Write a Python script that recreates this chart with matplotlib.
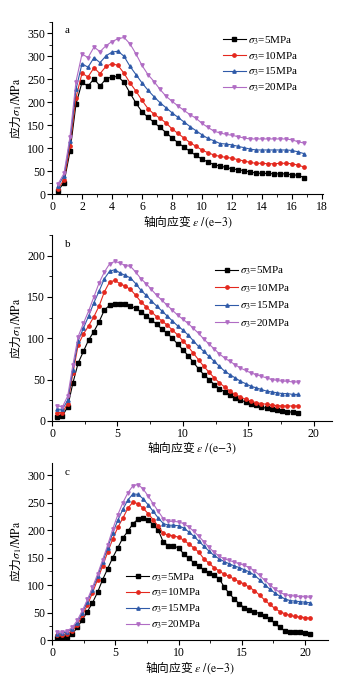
import matplotlib
matplotlib.use("Agg")
import matplotlib.pyplot as plt
from matplotlib.ticker import MultipleLocator

plt.rcParams['font.family'] = ['Liberation Serif', 'Noto Sans CJK SC', 'DejaVu Sans']
plt.rcParams['mathtext.fontset'] = 'stix'
plt.rcParams['font.size'] = 8

# ---- panel a ----
x_a = [0.4, 0.8, 1.2, 1.6, 2.0, 2.4, 2.8, 3.2, 3.6, 4.0, 4.4, 4.8, 5.2, 5.6, 6.0,
       6.4, 6.8, 7.2, 7.6, 8.0, 8.4, 8.8, 9.2, 9.6, 10.0, 10.4, 10.8, 11.2, 11.6,
       12.0, 12.4, 12.8, 13.2, 13.6, 14.0, 14.4, 14.8, 15.2, 15.6, 16.0, 16.4, 16.8]
a_5 = [7, 25, 93, 196, 243, 235, 251, 235, 251, 255, 256, 243, 220, 198, 179, 167,
       156, 145, 134, 122, 112, 102, 93, 84, 76, 70, 64, 61, 58, 55, 53, 51, 48, 46,
       45, 45, 44, 44, 44, 42, 41, 36]
a_10 = [12, 30, 105, 210, 263, 255, 275, 262, 278, 284, 280, 263, 242, 224, 204, 186,
        174, 165, 155, 142, 132, 122, 112, 104, 96, 90, 85, 82, 80, 78, 75, 72, 69, 67,
        67, 66, 66, 67, 67, 66, 63, 59]
a_15 = [18, 40, 115, 228, 284, 276, 297, 286, 301, 309, 311, 300, 278, 260, 242, 226,
        212, 199, 188, 177, 167, 157, 147, 138, 129, 121, 116, 110, 109, 107, 104, 101,
        98, 96, 96, 96, 96, 96, 96, 95, 92, 88]
a_20 = [22, 45, 125, 245, 305, 297, 320, 310, 323, 332, 338, 341, 327, 305, 280, 260,
        245, 228, 213, 202, 192, 182, 173, 165, 154, 145, 137, 133, 130, 128, 125, 122,
        120, 120, 120, 120, 120, 120, 120, 118, 114, 111]

# ---- panel b ----
x_b = [0.4, 0.8, 1.2, 1.6, 2.0, 2.4, 2.8, 3.2, 3.6, 4.0, 4.4, 4.8, 5.2, 5.6, 6.0,
       6.4, 6.8, 7.2, 7.6, 8.0, 8.4, 8.8, 9.2, 9.6, 10.0, 10.4, 10.8, 11.2, 11.6,
       12.0, 12.4, 12.8, 13.2, 13.6, 14.0, 14.4, 14.8, 15.2, 15.6, 16.0, 16.4, 16.8,
       17.2, 17.6, 18.0, 18.4, 18.8]
b_5 = [5, 6, 17, 46, 70, 84, 98, 108, 120, 134, 140, 142, 142, 141, 139, 136, 132,
       127, 122, 117, 111, 106, 100, 93, 86, 79, 71, 63, 56, 50, 44, 39, 35, 31, 28,
       25, 23, 21, 19, 17, 15, 14, 13, 12, 11, 10.5, 10]
b_10 = [10, 10, 21, 58, 92, 105, 115, 126, 139, 156, 168, 170, 166, 163, 159, 152,
        144, 138, 132, 126, 121, 116, 110, 104, 97, 90, 82, 74, 66, 59, 52, 46, 41, 36,
        32, 29, 26, 24, 22, 21, 20, 19, 18.5, 18, 18, 18, 18]
b_15 = [14, 14, 25, 62, 97, 112, 127, 143, 157, 172, 181, 183, 179, 176, 173, 166,
        158, 152, 145, 139, 133, 127, 121, 115, 110, 104, 97, 90, 84, 78, 72, 66, 60,
        56, 52, 48, 45, 42, 40, 38, 36, 35, 34, 33, 33, 32, 32]
b_20 = [18, 17, 30, 68, 102, 118, 133, 150, 167, 180, 190, 193, 191, 188, 187, 180,
        172, 166, 159, 152, 146, 140, 134, 128, 123, 118, 112, 106, 99, 93, 87, 81, 76,
        72, 68, 64, 61, 58, 56, 54, 52, 50, 49, 48, 48, 47, 47]

# ---- panel c ----
x_c = [0.4, 0.8, 1.2, 1.6, 2.0, 2.4, 2.8, 3.2, 3.6, 4.0, 4.4, 4.8, 5.2, 5.6, 6.0,
       6.4, 6.8, 7.2, 7.6, 8.0, 8.4, 8.8, 9.2, 9.6, 10.0, 10.4, 10.8, 11.2, 11.6,
       12.0, 12.4, 12.8, 13.2, 13.6, 14.0, 14.4, 14.8, 15.2, 15.6, 16.0, 16.4, 16.8,
       17.2, 17.6, 18.0, 18.4, 18.8, 19.2, 19.6, 20.0, 20.4]
c_5 = [3, 4, 6, 11, 23, 37, 52, 68, 87, 110, 130, 150, 168, 186, 198, 212, 220, 222,
       218, 210, 200, 178, 172, 171, 168, 157, 149, 141, 134, 128, 123, 118, 112, 97,
       85, 75, 66, 59, 54, 52, 48, 44, 38, 31, 23, 17, 15, 14, 14, 13, 12]
c_10 = [9, 10, 12, 17, 28, 45, 64, 86, 110, 135, 160, 184, 205, 222, 240, 251, 248,
        240, 230, 219, 207, 194, 191, 190, 187, 182, 175, 168, 160, 148, 140, 132, 126,
        120, 116, 111, 106, 102, 96, 90, 82, 73, 65, 58, 52, 48, 45, 43, 42, 41, 40]
c_15 = [12, 13, 15, 21, 32, 50, 70, 92, 116, 142, 168, 195, 218, 238, 255, 266, 265,
        257, 246, 234, 222, 212, 209, 209, 208, 204, 197, 189, 180, 171, 162, 154, 148,
        143, 139, 135, 132, 128, 124, 118, 110, 101, 93, 86, 80, 75, 72, 71, 70, 69, 68]
c_20 = [14, 15, 17, 23, 36, 54, 74, 96, 120, 146, 173, 202, 228, 250, 268, 281, 283,
        275, 262, 248, 234, 221, 216, 216, 215, 212, 206, 198, 189, 179, 169, 160, 153,
        148, 145, 142, 139, 136, 132, 126, 118, 109, 101, 93, 87, 83, 81, 80, 79, 79, 78]

labels = [r'$\sigma_3$=5MPa', r'$\sigma_3$=10MPa', r'$\sigma_3$=15MPa', r'$\sigma_3$=20MPa']
colors = ['#000000', '#e4281e', '#2f5aa8', '#b06cc4']
markers = ['s', 'o', '^', 'v']

xlabel_txt = r'轴向应变 $\varepsilon\ /\mathrm{(e{-}3)}$'
ylabel_txt = r'应力$\sigma_1/\mathrm{MPa}$'
cjk = 'Noto Sans CJK SC'


def panel(rect, x, series, letter, xmax, xmaj, ymax, ymaj, leg_xy, leg_sp):
    ax = fig.add_axes(rect)
    for y, lab, col, mk in zip(series, labels, colors, markers):
        ax.plot(x, y, color=col, marker=mk, markersize=2.4, linewidth=0.8, label=lab)
    ax.set_xlim(0, xmax)
    ax.set_ylim(0, ymax)
    ax.xaxis.set_major_locator(MultipleLocator(xmaj))
    ax.xaxis.set_minor_locator(MultipleLocator(xmaj / 2))
    ax.yaxis.set_major_locator(MultipleLocator(ymaj))
    ax.yaxis.set_minor_locator(MultipleLocator(ymaj / 2))
    ax.spines['top'].set_visible(False)
    ax.spines['right'].set_visible(False)
    ax.tick_params(which='major', direction='out', length=3.5, width=0.8, labelsize=8.5, pad=1.5)
    ax.tick_params(which='minor', direction='out', length=2, width=0.6)
    ax.set_xlabel(xlabel_txt, fontsize=8.5, family=cjk, labelpad=0)
    ax.set_ylabel(ylabel_txt, fontsize=8.5, family=cjk, labelpad=3)
    ax.text(0.045, 0.975, letter, transform=ax.transAxes, fontsize=8, va='top')
    ax.legend(loc='upper left', bbox_to_anchor=leg_xy, frameon=False, fontsize=8,
              handlelength=2.1, handletextpad=0.2, borderpad=0, borderaxespad=0,
              labelspacing=leg_sp)
    return ax


fig = plt.figure(figsize=(3.41, 6.81), dpi=100)
panel([0.1525, 0.715, 0.794, 0.253], x_a, [a_5, a_10, a_15, a_20], 'a',
      18.05, 2, 375, 50, (0.63, 0.928), 0.3)
panel([0.1525, 0.382, 0.821, 0.273], x_b, [b_5, b_10, b_15, b_20], 'b',
      21.4, 5, 225, 50, (0.582, 0.84), 0.45)
panel([0.1525, 0.060, 0.809, 0.260], x_c, [c_5, c_10, c_15, c_20], 'c',
      21.8, 5, 322, 50, (0.268, 0.39), 0.3)

fig.savefig('out.png', dpi=100)
